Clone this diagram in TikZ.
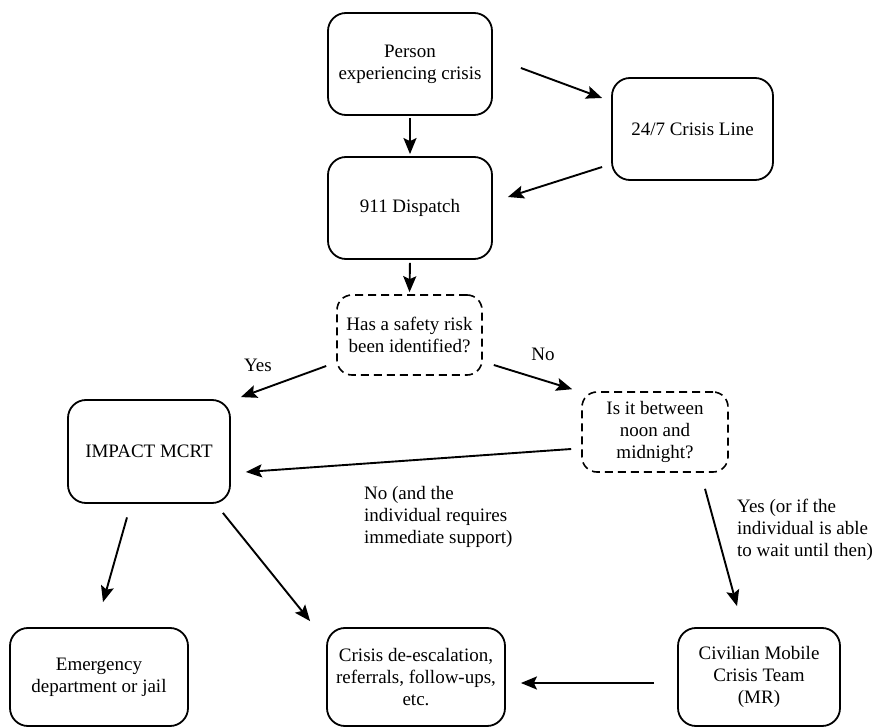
\documentclass[tikz,border=0pt]{standalone}
\usepackage{fontspec}
\setmainfont{Liberation Serif}
\newfontfamily\flowfont{Liberation Serif}
\usetikzlibrary{positioning, arrows.meta, calc}

\begin{document}
\begin{tikzpicture}[x=1pt, y=-1pt,
        box/.style={draw, line width=1.8pt, rounded corners=18pt, align=center, inner sep=0pt, font=\flowfont\fontsize{19}{22}\selectfont},
        qbox/.style={box, line width=1.6pt, dash pattern=on 8pt off 5pt, rounded corners=15pt},
        arr/.style={-{Stealth[length=16pt, width=13pt, inset=3pt]}, line width=1.9pt},
        lbl/.style={align=left, inner sep=0pt, font=\flowfont\fontsize{19}{22}\selectfont}]

        \useasboundingbox (0,0) rectangle (876,727);

        % top row
        \node[box, minimum width=164pt, minimum height=102pt] (person) at (410,64) {Person\\experiencing crisis};
        \node[box, minimum width=161pt, minimum height=102pt] (crisisline) at (692.5,129) {24/7 Crisis Line};
        \node[box, minimum width=164pt, minimum height=102pt] (dispatch) at (410,208) {911 Dispatch};

        % questions
        \node[qbox, minimum width=145pt, minimum height=80pt] (risk) at (409.5,335) {Has a safety risk\\been identified?};
        \node[qbox, minimum width=146pt, minimum height=80pt] (noon) at (655,432) {Is it between\\noon and\\midnight?};

        % responders and outcomes
        \node[box, minimum width=162pt, minimum height=103pt] (impact) at (149,451.5) {IMPACT MCRT};
        \node[box, minimum width=178pt, minimum height=98pt] (emerg) at (99,677) {Emergency\\department or jail};
        \node[box, minimum width=178pt, minimum height=98pt] (deesc) at (416,677) {Crisis de-escalation,\\referrals, follow-ups,\\etc.};
        \node[box, minimum width=162pt, minimum height=98pt] (civil) at (759,677) {Civilian Mobile\\Crisis Team\\(MR)};

        % arrows
        \draw[arr, shorten <=2pt, shorten >=2pt] (person.south) -- (dispatch.north);
        \draw[arr] ($(person.east)+(28,4)$) -- ($(crisisline.west)+(-9,-31)$);
        \draw[arr] ($(crisisline.west)+(-9,38)$) -- ($(dispatch.east)+(15,-11)$);
        \draw[arr, shorten <=3pt, shorten >=2pt] (dispatch.south) -- (risk.north);
        \draw[arr] ($(risk.west)+(-10,31)$) -- ($(impact.north east)+(10,-2)$);
        \draw[arr] ($(risk.east)+(11,30)$) -- ($(noon.north west)+(-9,-2)$);
        \draw[arr] ($(noon.west)+(-10,17)$) -- ($(impact.east)+(15,20.5)$);
        \draw[arr] ($(noon.south)+(50,16)$) -- ($(civil.north)+(-22,-21)$);
        \draw[arr] ($(impact.south)+(-22,13.5)$) -- ($(emerg.north)+(4,-25)$);
        \draw[arr] ($(impact.south east)+(-8,9)$) -- ($(deesc.north west)+(-16,-6)$);
        \draw[arr] ($(civil.west)+(-23,6)$) -- ($(deesc.east)+(15,6)$);

        % labels
        \node[lbl] (yeslbl) at (258,365) {Yes};
        \node[lbl] (nolbl) at (543,354) {No};
        \node[lbl, anchor=west] (nowait) at (364,517) {No (and the\\individual requires\\immediate support)};
        \node[lbl, anchor=west] (yeswait) at (737,530) {Yes (or if the\\individual is able\\to wait until then)};
    \end{tikzpicture}
\end{document}
